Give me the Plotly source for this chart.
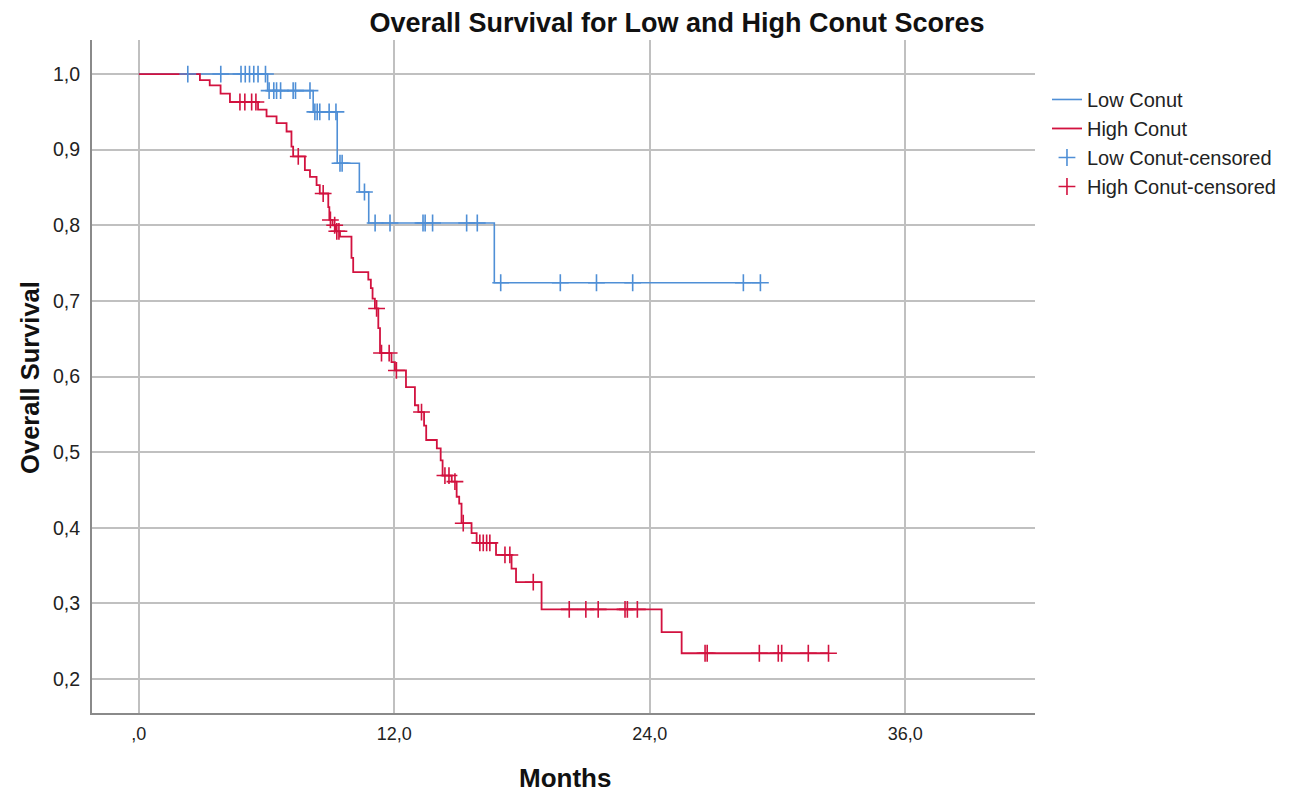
import numpy as np
import plotly.graph_objects as go

# ---- data ----
low_times = [0, 6.05, 8.19, 9.32, 10.36, 10.8, 16.7, 29.2]
low_surv = [1.0, 0.978, 0.950, 0.882, 0.844, 0.803, 0.724, 0.724]
low_censor_times = [2.3, 3.85, 4.8, 5.0, 5.2, 5.4, 5.6, 5.95,
                    6.12, 6.34, 6.47, 6.66, 7.25, 7.36, 8.04,
                    8.27, 8.38, 8.5, 8.94, 9.26,
                    9.45, 9.55, 10.6,
                    11.1, 11.8, 13.35, 13.45, 13.8, 15.4, 15.9,
                    17.0, 19.8, 21.5, 23.2, 28.4, 29.2]

high_times = [0, 2.87, 3.33, 3.84, 4.28, 5.6, 6.0, 6.47, 6.94, 7.17, 7.25,
              7.8, 8.04, 8.35, 8.5, 8.9, 8.95, 9.1, 9.25, 9.45, 9.99, 10.07,
              10.78, 10.9, 10.98, 11.09, 11.25, 11.33, 11.87, 12.03, 12.55,
              12.97, 13.13, 13.4, 13.5, 14.0, 14.18, 14.27, 14.7, 14.93, 15.05,
              15.16, 15.63, 15.87, 16.78, 17.51, 17.72, 18.92, 24.56, 25.5, 32.4]
high_surv = [1.0, 0.992, 0.985, 0.974, 0.963, 0.953, 0.944, 0.935, 0.924, 0.904, 0.891,
             0.873, 0.864, 0.853, 0.842, 0.824, 0.807, 0.800, 0.792, 0.785, 0.757, 0.738,
             0.728, 0.717, 0.703, 0.690, 0.664, 0.631, 0.619, 0.608, 0.586,
             0.562, 0.553, 0.535, 0.516, 0.505, 0.489, 0.469, 0.461, 0.441, 0.432,
             0.406, 0.393, 0.380, 0.364, 0.346, 0.328, 0.292, 0.262, 0.234, 0.234]
high_censor_times = [4.75, 4.98, 5.3, 5.5, 7.49, 8.66, 9.0, 9.2, 9.3, 9.4,
                     11.17, 11.4, 11.76, 12.1, 13.28, 14.38, 14.57, 14.85, 15.24,
                     16.02, 16.18, 16.34, 16.49, 17.2, 17.43, 18.53,
                     20.22, 21.0, 21.58, 22.84, 22.95, 23.42,
                     26.6, 26.7, 29.15, 30.04, 30.2, 31.45, 32.4]

x_tickvals = [0, 12, 24, 36]
x_ticktext = [",0", "12,0", "24,0", "36,0"]
y_tickvals = [0.2, 0.3, 0.4, 0.5, 0.6, 0.7, 0.8, 0.9, 1.0]
y_ticktext = ["0,2", "0,3", "0,4", "0,5", "0,6", "0,7", "0,8", "0,9", "1,0"]

BLUE = "#4f8fd6"
RED = "#d2123f"


def step_value(times, surv, t):
    idx = np.searchsorted(np.asarray(times), np.asarray(t), side="right") - 1
    return np.asarray(surv)[idx]


fig = go.Figure()
fig.add_trace(go.Scatter(x=low_times, y=low_surv, mode="lines", line_shape="hv",
                         line=dict(color=BLUE, width=1.6), name="Low Conut"))
fig.add_trace(go.Scatter(x=high_times, y=high_surv, mode="lines", line_shape="hv",
                         line=dict(color=RED, width=1.8), name="High Conut"))
fig.add_trace(go.Scatter(x=low_censor_times,
                         y=step_value(low_times, low_surv, low_censor_times),
                         mode="markers", name="Low Conut-censored",
                         marker=dict(symbol="cross-thin-open", size=12, color=BLUE,
                                     line=dict(color=BLUE, width=1.6))))
fig.add_trace(go.Scatter(x=high_censor_times,
                         y=step_value(high_times, high_surv, high_censor_times),
                         mode="markers", name="High Conut-censored",
                         marker=dict(symbol="cross-thin-open", size=12, color=RED,
                                     line=dict(color=RED, width=1.6))))

FONT = "Liberation Sans, Arial, sans-serif"
# the page body adds an 8px margin, so the figure is 8px smaller in each direction
fig.update_layout(
    width=1293, height=789,
    paper_bgcolor="white", plot_bgcolor="white",
    margin=dict(l=84, r=266, t=32, b=84, autoexpand=False),
    font=dict(family=FONT, color="#222"),
    title=dict(text="<b>Overall Survival for Low and High Conut Scores</b>",
               x=0.5174, xanchor="center", y=0.982, yanchor="middle",
               font=dict(size=27, color="#111")),
    legend=dict(x=1.0127, y=0.9406, xanchor="left", yanchor="top",
                font=dict(size=20, color="#222"), tracegroupgap=0,
                itemwidth=30, bgcolor="rgba(0,0,0,0)"),
    showlegend=True,
    annotations=[
        dict(text="<b>Overall Survival</b>", xref="paper", yref="paper",
             x=-0.0657, y=0.498, textangle=-90, showarrow=False,
             xanchor="center", yanchor="middle", font=dict(size=25.5, color="#111")),
        dict(text="<b>Months</b>", xref="paper", yref="paper",
             x=0.5016, y=-0.0966, showarrow=False,
             xanchor="center", yanchor="middle", font=dict(size=26, color="#111")),
    ],
)
fig.update_xaxes(range=[-2.2, 42.1], tickvals=x_tickvals, ticktext=x_ticktext,
                 showgrid=True, gridcolor="#c0c0c0", gridwidth=2,
                 showline=True, linecolor="#8a8a8a", linewidth=2,
                 zeroline=False, ticks="", tickfont=dict(size=18, color="#222"),
                 ticklabelstandoff=3, automargin=False)
fig.update_yaxes(range=[0.155, 1.045], tickvals=y_tickvals, ticktext=y_ticktext,
                 showgrid=True, gridcolor="#c0c0c0", gridwidth=2,
                 showline=True, linecolor="#8a8a8a", linewidth=2,
                 zeroline=False, ticks="", tickfont=dict(size=19.5, color="#222"),
                 ticklabelstandoff=6, automargin=False)

fig.write_html("out.html")
